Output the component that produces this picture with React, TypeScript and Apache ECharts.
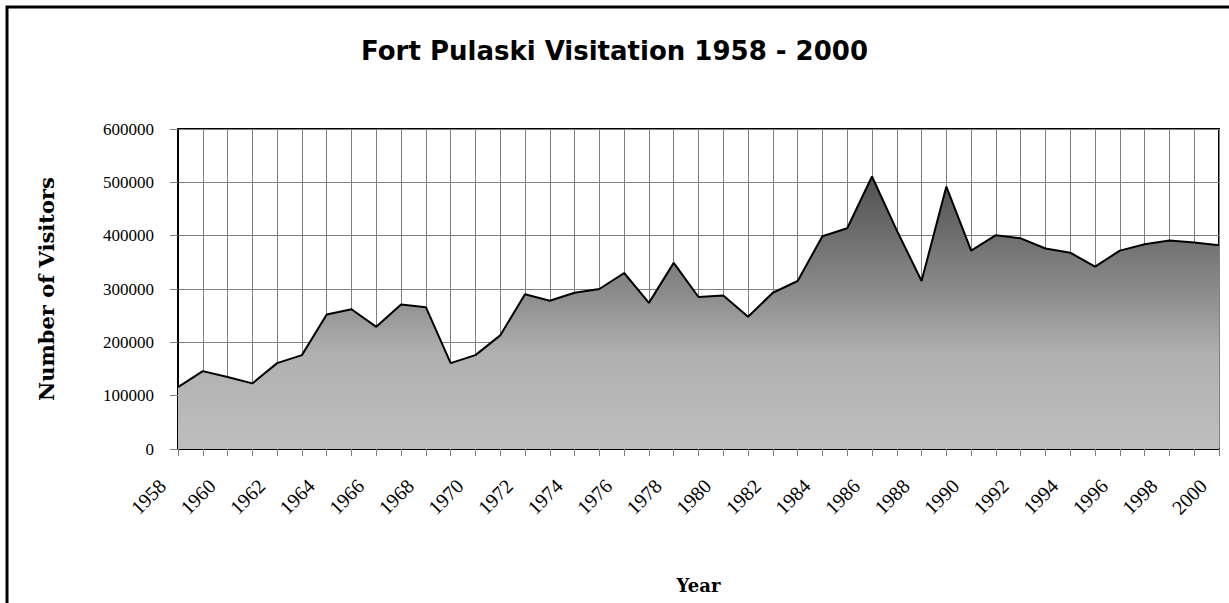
import React, { useEffect, useRef } from "react";
import * as echarts from "echarts";

const years: string[] = [];
for (let y = 1958; y <= 2000; y++) years.push(String(y));

const visitors: number[] = [
  116000, 146000, 135000, 123000, 161000, 176000, 252000, 262000, 229000, 271000,
  266000, 161000, 176000, 213000, 290000, 278000, 293000, 300000, 330000, 274000,
  349000, 285000, 288000, 248000, 293000, 315000, 399000, 414000, 511000, 410000,
  315000, 492000, 372000, 401000, 395000, 376000, 368000, 342000, 372000, 384000,
  391000, 387000, 382000,
];

const titleText = "Fort Pulaski Visitation 1958 - 2000";
const xName = "Year";
const yName = "Number of Visitors";

export default function App() {
  const ref = useRef<HTMLDivElement>(null);
  useEffect(() => {
    if (!ref.current) return;
    const chart = echarts.init(ref.current, undefined, { renderer: "svg" });
    chart.setOption({
      animation: false,
      backgroundColor: "#ffffff",
      title: {
        text: titleText,
        left: "center",
        top: 33,
        textStyle: {
          fontFamily: "DejaVu Sans",
          fontWeight: "bold",
          fontSize: 26,
          color: "#000",
        },
      },
      graphic: [
        {
          type: "rect",
          shape: { x: 7, y: 7, width: 1260, height: 640 },
          style: { fill: "none", stroke: "#000", lineWidth: 3 },
          silent: true,
        },
      ],
      grid: {
        left: 178,
        right: 10,
        top: 129,
        bottom: 154,
        show: true,
        borderColor: "#000",
        borderWidth: 2,
        backgroundColor: "#fff",
      },
      xAxis: {
        type: "category",
        data: years,
        boundaryGap: false,
        name: xName,
        nameLocation: "middle",
        nameGap: 127,
        nameTextStyle: {
          fontFamily: "DejaVu Serif",
          fontWeight: "bold",
          fontSize: 18,
          color: "#000",
        },
        axisLine: { show: true, lineStyle: { color: "#000", width: 2 } },
        axisTick: {
          show: true,
          interval: 0,
          length: 7,
          lineStyle: { color: "#808080", width: 1 },
        },
        splitLine: {
          show: true,
          interval: 0,
          lineStyle: { color: "#808080", width: 1 },
        },
        axisLabel: {
          interval: 1,
          rotate: 45,
          margin: 18,
          padding: [0, 22, 0, 0],
          fontFamily: "Liberation Serif",
          fontSize: 20,
          color: "#000",
        },
      },
      yAxis: {
        type: "value",
        min: 0,
        max: 600000,
        interval: 100000,
        name: yName,
        nameLocation: "middle",
        nameGap: 121,
        nameTextStyle: {
          fontFamily: "DejaVu Serif",
          fontWeight: "bold",
          fontSize: 21,
          color: "#000",
        },
        axisLine: { show: true, lineStyle: { color: "#000", width: 2 } },
        axisTick: {
          show: true,
          length: 8,
          lineStyle: { color: "#808080", width: 1 },
        },
        splitLine: { show: true, lineStyle: { color: "#808080", width: 1 } },
        axisLabel: {
          margin: 24,
          fontFamily: "Liberation Serif",
          fontSize: 17,
          color: "#000",
          formatter: (v: number) => String(v),
        },
      },
      series: [
        {
          type: "line",
          data: visitors,
          showSymbol: false,
          symbol: "none",
          lineStyle: { color: "#000", width: 2 },
          areaStyle: {
            opacity: 1,
            color: new echarts.graphic.LinearGradient(0, 0, 0, 1, [
              { offset: 0, color: "#505050" },
              { offset: 0.45, color: "#8f8f8f" },
              { offset: 0.65, color: "#b0b0b0" },
              { offset: 1, color: "#bebebe" },
            ]),
          },
          z: 3,
        },
      ],
    });
    return () => chart.dispose();
  }, []);
  return (
    <div
      ref={ref}
      style={{ position: "fixed", left: 0, top: 0, width: 1229, height: 603 }}
    />
  );
}
